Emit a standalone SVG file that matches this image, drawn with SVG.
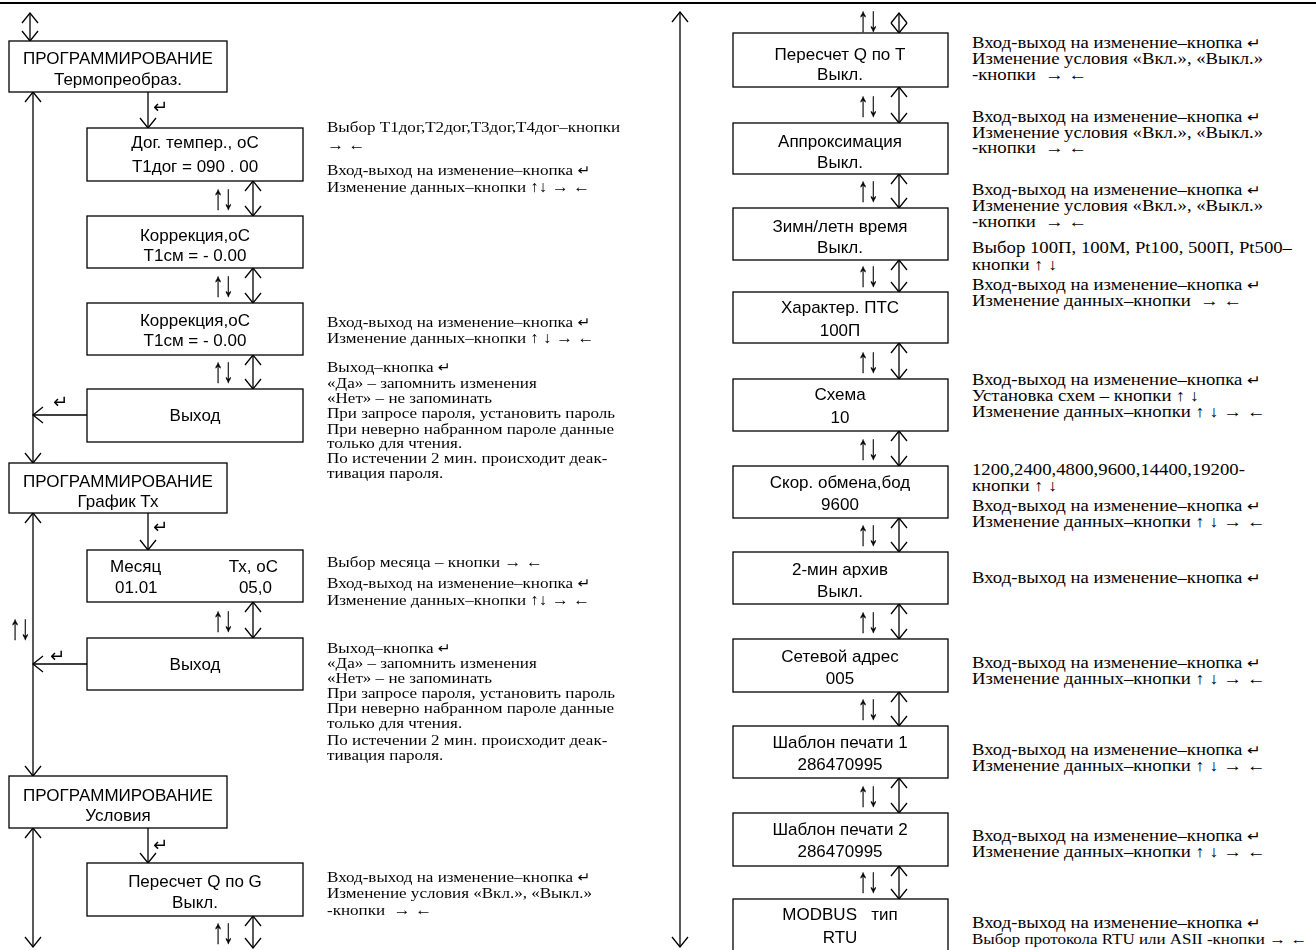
<svg xmlns="http://www.w3.org/2000/svg" width="1316" height="950" viewBox="0 0 1316 950">
<style>
.box{fill:#fff;stroke:#000;stroke-width:1.3}
.bt{font-family:"Liberation Sans",Arial,sans-serif;font-size:17px;text-anchor:middle;fill:#000}
.bs{font-family:"Liberation Sans",Arial,sans-serif;font-size:17px;fill:#000}
.an{font-family:"Liberation Serif","Times New Roman","DejaVu Serif",serif;font-size:15.5px;fill:#000}
.ar{font-family:"Liberation Serif","Times New Roman","DejaVu Serif",serif;font-size:16px;fill:#000}
.sym{font-family:"Liberation Serif","DejaVu Serif",serif;font-size:24px;fill:#000;stroke:#000;stroke-width:0.3}
.ent{font-family:"DejaVu Sans",sans-serif;font-size:18px;fill:#000}
.e{font-family:"DejaVu Sans",sans-serif;font-size:14px}
.ln{stroke:#000;stroke-width:1.3;fill:none}
.dbl{marker-start:url(#v);marker-end:url(#v)}
.one{marker-end:url(#v)}
</style>
<defs>
<marker id="v" viewBox="0 0 12 18" refX="11" refY="9" markerWidth="12" markerHeight="18" markerUnits="userSpaceOnUse" orient="auto-start-reverse">
<path d="M1,1 L11,9 L1,17" fill="none" stroke="#000" stroke-width="1.3"/>
</marker>
</defs>
<rect width="1316" height="950" fill="#fff"/>
<line x1="0" y1="3" x2="1316" y2="3" stroke="#000" stroke-width="2"/>

<g id="connectors">
<line class="ln dbl" x1="30" y1="13" x2="30" y2="41"/>
<line class="ln dbl" x1="33" y1="92" x2="33" y2="463"/>
<line class="ln dbl" x1="33" y1="513" x2="33" y2="776"/>
<line class="ln dbl" x1="33" y1="828" x2="33" y2="947"/>
<line class="ln one" x1="148" y1="92" x2="148" y2="128"/>
<line class="ln one" x1="148" y1="513" x2="148" y2="550"/>
<line class="ln one" x1="148" y1="828" x2="148" y2="863"/>
<line class="ln one" x1="87" y1="415" x2="33" y2="415"/>
<line class="ln one" x1="87" y1="664" x2="33" y2="664"/>
<line class="ln dbl" x1="253" y1="181" x2="253" y2="216"/>
<line class="ln dbl" x1="253" y1="268" x2="253" y2="303"/>
<line class="ln dbl" x1="253" y1="355" x2="253" y2="389"/>
<line class="ln dbl" x1="253" y1="602" x2="253" y2="638"/>
<line class="ln dbl" x1="253" y1="916" x2="253" y2="948"/>
<line class="ln dbl" x1="680" y1="12" x2="680" y2="947"/>
<line class="ln dbl" x1="899" y1="13" x2="899" y2="33"/>
<line class="ln dbl" x1="899" y1="87" x2="899" y2="123"/>
<line class="ln dbl" x1="899" y1="174" x2="899" y2="208"/>
<line class="ln dbl" x1="899" y1="260" x2="899" y2="292"/>
<line class="ln dbl" x1="899" y1="343" x2="899" y2="379"/>
<line class="ln dbl" x1="899" y1="431" x2="899" y2="466"/>
<line class="ln dbl" x1="899" y1="518" x2="899" y2="552"/>
<line class="ln dbl" x1="899" y1="604" x2="899" y2="639"/>
<line class="ln dbl" x1="899" y1="692" x2="899" y2="726"/>
<line class="ln dbl" x1="899" y1="778" x2="899" y2="813"/>
<line class="ln dbl" x1="899" y1="866" x2="899" y2="899"/>
<g opacity="0.99">
<text class="sym" transform="translate(213,209) scale(0.85,1.45)">↑↓</text>
<text class="sym" transform="translate(213,296) scale(0.85,1.45)">↑↓</text>
<text class="sym" transform="translate(213,382) scale(0.85,1.45)">↑↓</text>
<text class="sym" transform="translate(213,631) scale(0.85,1.45)">↑↓</text>
<text class="sym" transform="translate(213,943) scale(0.85,1.45)">↑↓</text>
<text class="sym" transform="translate(10,639) scale(0.85,1.45)">↑↓</text>
<text class="sym" transform="translate(858,31) scale(0.85,1.45)">↑↓</text>
<text class="sym" transform="translate(858,116) scale(0.85,1.45)">↑↓</text>
<text class="sym" transform="translate(858,201) scale(0.85,1.45)">↑↓</text>
<text class="sym" transform="translate(858,286) scale(0.85,1.45)">↑↓</text>
<text class="sym" transform="translate(858,372) scale(0.85,1.45)">↑↓</text>
<text class="sym" transform="translate(858,459) scale(0.85,1.45)">↑↓</text>
<text class="sym" transform="translate(858,545) scale(0.85,1.45)">↑↓</text>
<text class="sym" transform="translate(858,632) scale(0.85,1.45)">↑↓</text>
<text class="sym" transform="translate(858,719) scale(0.85,1.45)">↑↓</text>
<text class="sym" transform="translate(858,806) scale(0.85,1.45)">↑↓</text>
<text class="sym" transform="translate(858,892) scale(0.85,1.45)">↑↓</text>
</g>
<text class="ent" x="153" y="113">↵</text>
<text class="ent" x="153" y="533">↵</text>
<text class="ent" x="153" y="851">↵</text>
<text class="ent" x="53" y="408">↵</text>
<text class="ent" x="50" y="662">↵</text>
</g>

<g id="n1"><rect class="box" x="9" y="41" width="218" height="51"/><text class="bt" x="118" y="64">ПРОГРАММИРОВАНИЕ</text><text class="bt" x="118" y="85">Термопреобраз.</text></g>
<g id="n2"><rect class="box" x="87" y="128" width="216" height="53"/><text class="bt" x="195" y="148">Дог. темпер., оС</text><text class="bt" x="195" y="172">Т1дог = 090 . 00</text></g>
<g id="n3"><rect class="box" x="87" y="216" width="216" height="52"/><text class="bt" x="195" y="241">Коррекция,оС</text><text class="bt" x="195" y="261">Т1см = - 0.00</text></g>
<g id="n4"><rect class="box" x="87" y="303" width="216" height="52"/><text class="bt" x="195" y="326">Коррекция,оС</text><text class="bt" x="195" y="346">Т1см = - 0.00</text></g>
<g id="n5"><rect class="box" x="87" y="389" width="216" height="53"/><text class="bt" x="195" y="421">Выход</text></g>
<g id="n6"><rect class="box" x="9" y="463" width="218" height="50"/><text class="bt" x="118" y="487">ПРОГРАММИРОВАНИЕ</text><text class="bt" x="118" y="507">График Тх</text></g>
<g id="n7"><rect class="box" x="87" y="550" width="216" height="52"/><text class="bs" x="110" y="572">Месяц</text><text class="bs" x="278" y="572" text-anchor="end">Тх, оС</text><text class="bs" x="115" y="593">01.01</text><text class="bs" x="272" y="593" text-anchor="end">05,0</text></g>
<g id="n8"><rect class="box" x="87" y="638" width="216" height="52"/><text class="bt" x="195" y="670">Выход</text></g>
<g id="n9"><rect class="box" x="9" y="776" width="218" height="52"/><text class="bt" x="118" y="801">ПРОГРАММИРОВАНИЕ</text><text class="bt" x="118" y="821">Условия</text></g>
<g id="n10"><rect class="box" x="87" y="863" width="216" height="53"/><text class="bt" x="195" y="887">Пересчет Q по G</text><text class="bt" x="195" y="908">Выкл.</text></g>

<g id="r1"><rect class="box" x="733" y="33" width="215" height="54"/><text class="bt" x="840" y="60">Пересчет Q по Т</text><text class="bt" x="840" y="80">Выкл.</text></g>
<g id="r2"><rect class="box" x="733" y="123" width="215" height="51"/><text class="bt" x="840" y="147">Аппроксимация</text><text class="bt" x="840" y="168">Выкл.</text></g>
<g id="r3"><rect class="box" x="733" y="208" width="215" height="52"/><text class="bt" x="840" y="232">Зимн/летн время</text><text class="bt" x="840" y="253">Выкл.</text></g>
<g id="r4"><rect class="box" x="733" y="292" width="215" height="51"/><text class="bt" x="840" y="313">Характер. ПТС</text><text class="bt" x="840" y="336">100П</text></g>
<g id="r5"><rect class="box" x="733" y="379" width="215" height="52"/><text class="bt" x="840" y="400">Схема</text><text class="bt" x="840" y="423">10</text></g>
<g id="r6"><rect class="box" x="733" y="466" width="215" height="52"/><text class="bt" x="840" y="488">Скор. обмена,бод</text><text class="bt" x="840" y="510">9600</text></g>
<g id="r7"><rect class="box" x="733" y="552" width="215" height="52"/><text class="bt" x="840" y="575">2-мин архив</text><text class="bt" x="840" y="597">Выкл.</text></g>
<g id="r8"><rect class="box" x="733" y="639" width="215" height="53"/><text class="bt" x="840" y="662">Сетевой адрес</text><text class="bt" x="840" y="684">005</text></g>
<g id="r9"><rect class="box" x="733" y="726" width="215" height="52"/><text class="bt" x="840" y="748">Шаблон печати 1</text><text class="bt" x="840" y="770">286470995</text></g>
<g id="r10"><rect class="box" x="733" y="813" width="215" height="53"/><text class="bt" x="840" y="835">Шаблон печати 2</text><text class="bt" x="840" y="857">286470995</text></g>
<g id="r11"><rect class="box" x="733" y="899" width="215" height="60"/><text class="bt" x="840" y="920" style="white-space:pre">MODBUS   тип</text><text class="bt" x="840" y="943">RTU</text></g>

<g id="notes-left" class="an" opacity="0.99" transform="matrix(1.1,0,0,1,-32.7,0)">
<text x="327" y="132">Выбор Т1дог,Т2дог,Т3дог,Т4дог–кнопки</text>
<text x="327" y="150">→ ←</text>
<text x="327" y="175">Вход-выход на изменение–кнопка <tspan class="e">↵</tspan></text>
<text x="327" y="192">Изменение данных–кнопки ↑↓ → ←</text>
<text x="327" y="327">Вход-выход на изменение–кнопка <tspan class="e">↵</tspan></text>
<text x="327" y="343">Изменение данных–кнопки ↑ ↓ → ←</text>
<text x="327" y="372">Выход–кнопка <tspan class="e">↵</tspan></text>
<text x="327" y="388">«Да» – запомнить изменения</text>
<text x="327" y="403">«Нет» – не запоминать</text>
<text x="327" y="418">При запросе пароля, установить пароль</text>
<text x="327" y="434">При неверно набранном пароле данные</text>
<text x="327" y="448">только для чтения.</text>
<text x="327" y="463">По истечении 2 мин. происходит деак-</text>
<text x="327" y="478">тивация пароля.</text>
<text x="327" y="567">Выбор месяца – кнопки → ←</text>
<text x="327" y="588">Вход-выход на изменение–кнопка <tspan class="e">↵</tspan></text>
<text x="327" y="605">Изменение данных–кнопки ↑↓ → ←</text>
<text x="327" y="653">Выход–кнопка <tspan class="e">↵</tspan></text>
<text x="327" y="668">«Да» – запомнить изменения</text>
<text x="327" y="683">«Нет» – не запоминать</text>
<text x="327" y="698">При запросе пароля, установить пароль</text>
<text x="327" y="713">При неверно набранном пароле данные</text>
<text x="327" y="728">только для чтения.</text>
<text x="327" y="745">По истечении 2 мин. происходит деак-</text>
<text x="327" y="760">тивация пароля.</text>
<text x="327" y="882">Вход-выход на изменение–кнопка <tspan class="e">↵</tspan></text>
<text x="327" y="898">Изменение условия «Вкл.», «Выкл.»</text>
<text x="327" y="915" style="white-space:pre">-кнопки  → ←</text>
</g>

<g id="notes-right" class="ar" opacity="0.99" transform="matrix(1.17,0,0,1,-165.24,0)">
<text x="972" y="48">Вход-выход на изменение–кнопка <tspan class="e">↵</tspan></text>
<text x="972" y="64">Изменение условия «Вкл.», «Выкл.»</text>
<text x="972" y="80" style="white-space:pre">-кнопки  → ←</text>
<text x="972" y="122">Вход-выход на изменение–кнопка <tspan class="e">↵</tspan></text>
<text x="972" y="138">Изменение условия «Вкл.», «Выкл.»</text>
<text x="972" y="153" style="white-space:pre">-кнопки  → ←</text>
<text x="972" y="195">Вход-выход на изменение–кнопка <tspan class="e">↵</tspan></text>
<text x="972" y="211">Изменение условия «Вкл.», «Выкл.»</text>
<text x="972" y="227" style="white-space:pre">-кнопки  → ←</text>
<text x="972" y="253">Выбор 100П, 100М, Pt100, 500П, Pt500–</text>
<text x="972" y="270">кнопки ↑ ↓</text>
<text x="972" y="290">Вход-выход на изменение–кнопка <tspan class="e">↵</tspan></text>
<text x="972" y="306" style="white-space:pre">Изменение данных–кнопки  → ←</text>
<text x="972" y="385">Вход-выход на изменение–кнопка <tspan class="e">↵</tspan></text>
<text x="972" y="401">Установка схем – кнопки ↑ ↓</text>
<text x="972" y="417">Изменение данных–кнопки ↑ ↓ → ←</text>
<text x="972" y="475">1200,2400,4800,9600,14400,19200-</text>
<text x="972" y="491">кнопки ↑ ↓</text>
<text x="972" y="511">Вход-выход на изменение–кнопка <tspan class="e">↵</tspan></text>
<text x="972" y="527">Изменение данных–кнопки ↑ ↓ → ←</text>
<text x="972" y="583">Вход-выход на изменение–кнопка <tspan class="e">↵</tspan></text>
<text x="972" y="668">Вход-выход на изменение–кнопка <tspan class="e">↵</tspan></text>
<text x="972" y="684">Изменение данных–кнопки ↑ ↓ → ←</text>
<text x="972" y="755">Вход-выход на изменение–кнопка <tspan class="e">↵</tspan></text>
<text x="972" y="771">Изменение данных–кнопки ↑ ↓ → ←</text>
<text x="972" y="841">Вход-выход на изменение–кнопка <tspan class="e">↵</tspan></text>
<text x="972" y="857">Изменение данных–кнопки ↑ ↓ → ←</text>
<text x="972" y="928">Вход-выход на изменение–кнопка <tspan class="e">↵</tspan></text>
<text x="972" y="944" style="font-size:14.5px">Выбор протокола RTU или ASII -кнопки → ←</text>
</g>
</svg>
